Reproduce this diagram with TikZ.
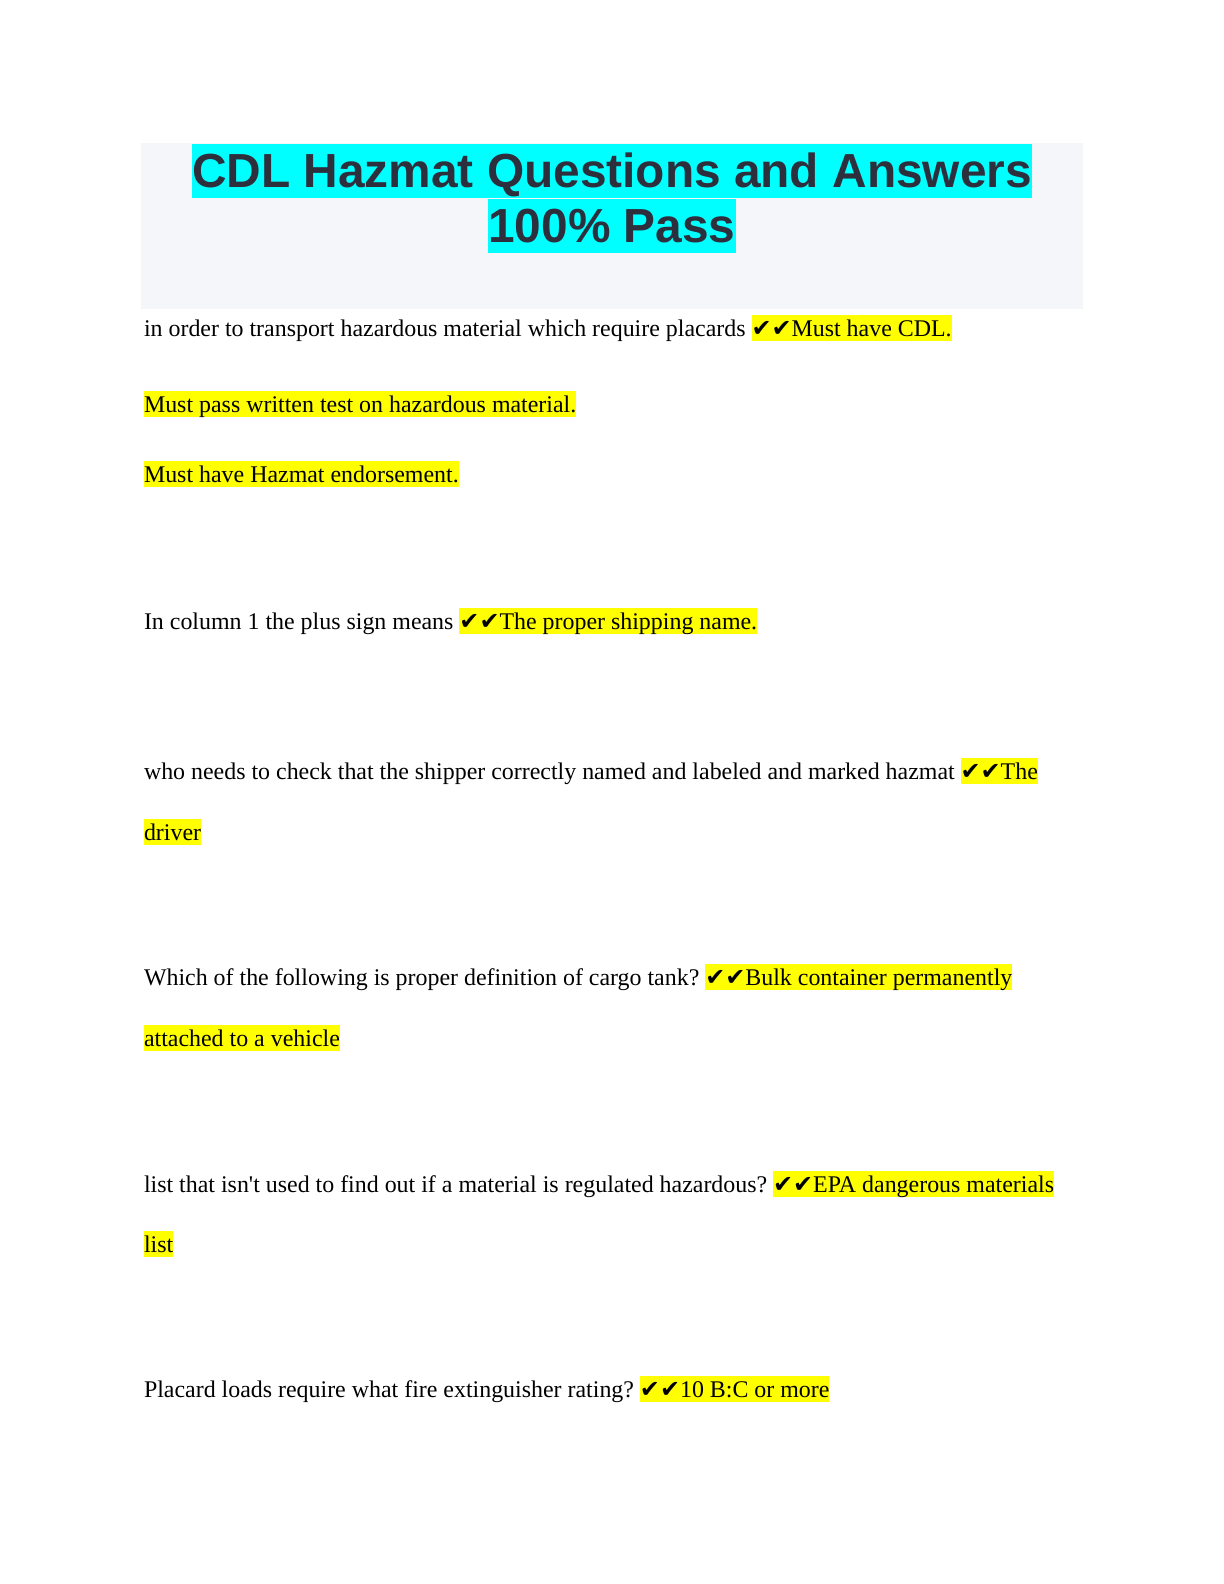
\documentclass[tikz,border=0pt]{standalone}
\usepackage{fontspec}
\setmainfont{Liberation Serif}
\newfontfamily\headfont{Liberation Sans}
\newfontfamily\tickfont{DejaVu Sans}
\usetikzlibrary{positioning}
\definecolor{headbg}{RGB}{245,246,250}
\definecolor{headink}{RGB}{46,47,60}
\definecolor{headcyan}{RGB}{0,255,255}
\definecolor{marker}{RGB}{255,255,0}
\newcommand{\ticks}{{\tickfont ✔✔}}
\begin{document}
\begin{tikzpicture}[x=0.5bp, y=-0.5bp,
                every node/.style = {inner sep=0pt, outer sep=0pt,
                                     font=\fontsize{12}{13.8}\selectfont},
                question/.style = {anchor=base west, text height=10.7bp, text depth=2.6bp},
                answer/.style = {question, fill=marker},
                titleline/.style = {anchor=base, fill=headcyan, text=headink,
                                    text height=21.7bp, text depth=5.1bp,
                                    font=\headfont\bfseries\fontsize{24}{27.6}\selectfont}
            ]
            \useasboundingbox (0,0) rectangle (1224,1584);
            % title block
            \fill[headbg] (141,143) rectangle (1083,309);
            \node[titleline] (title1) at (612,187.5) {CDL Hazmat Questions and Answers};
            \node[titleline] (title2) at (612,242.5) {100\% Pass};
            % questions and answers
            \node[question] (q1) at (144,336) {in order to transport hazardous material which require placards};
            \node[answer] (a1) at ([xshift=3bp]q1.base east) {\ticks{}Must have CDL.};
            \node[answer] (a1b) at (144,412) {Must pass written test on hazardous material.};
            \node[answer] (a1c) at (144,482) {Must have Hazmat endorsement.};
            \node[question] (q2) at (144,629) {In column 1 the plus sign means};
            \node[answer] (a2) at ([xshift=3bp]q2.base east) {\ticks{}The proper shipping name.};
            \node[question] (q3) at (144,779) {who needs to check that the shipper correctly named and labeled and marked hazmat};
            \node[answer] (a3) at ([xshift=3bp]q3.base east) {\ticks{}The};
            \node[answer] (a3b) at (144,840) {driver};
            \node[question] (q4) at (144,985) {Which of the following is proper definition of cargo tank?};
            \node[answer] (a4) at ([xshift=3bp]q4.base east) {\ticks{}Bulk container permanently};
            \node[answer] (a4b) at (144,1046) {attached to a vehicle};
            \node[question] (q5) at (144,1192) {list that isn\textquotesingle t used to find out if a material is regulated hazardous?};
            \node[answer] (a5) at ([xshift=3bp]q5.base east) {\ticks{}EPA dangerous materials};
            \node[answer] (a5b) at (144,1252) {list};
            \node[question] (q6) at (144,1397) {Placard loads require what fire extinguisher rating?};
            \node[answer] (a6) at ([xshift=3bp]q6.base east) {\ticks{}10 B:C or more};
        \end{tikzpicture}
\end{document}
